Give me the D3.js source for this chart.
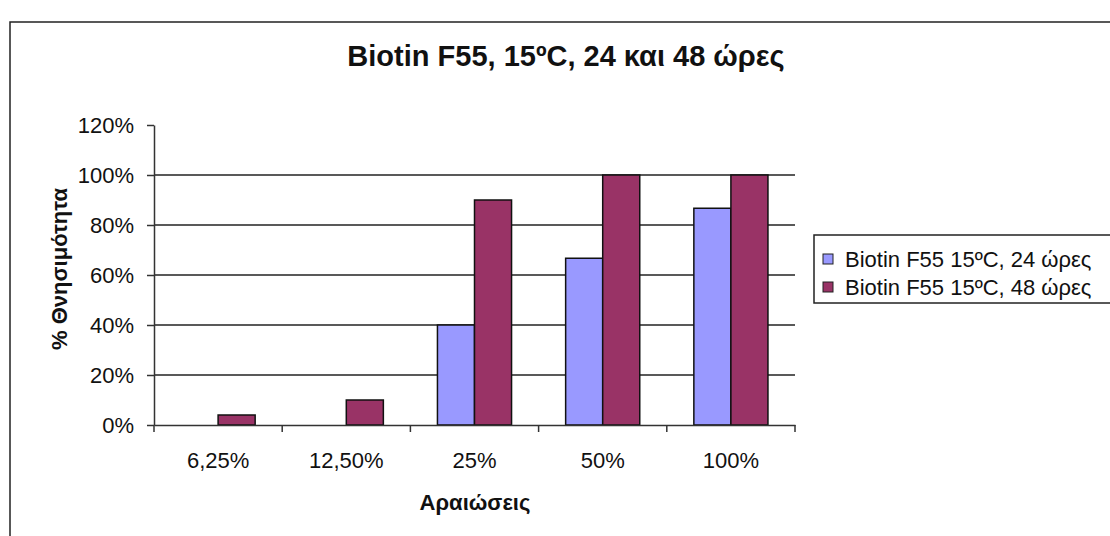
<!DOCTYPE html>
<html lang="el">
<head>
<meta charset="UTF-8">
<title>Biotin F55</title>
<style>
  body { margin: 0; background: #fff; font-family: Arial, "Liberation Sans", sans-serif; }
  svg text { fill: #111; }
  .axis path, .axis line { stroke: #333; stroke-width: 1.5; }
  .axis text { font-size: 22px; font-family: Arial, "Liberation Sans", sans-serif; fill: #111; }
</style>
</head>
<body>
<div id="chart"></div>
<script src="https://d3js.org/d3.v7.min.js"></script>
<script>
const categories = ["6,25%", "12,50%", "25%", "50%", "100%"];
const seriesNames = ["Biotin F55 15ºC, 24 ώρες", "Biotin F55 15ºC, 48 ώρες"];
const hours24 = [0, 0, 0.40, 0.667, 0.867];
const hours48 = [0.04, 0.10, 0.90, 1.00, 1.00];
const yTicks = [0, 0.2, 0.4, 0.6, 0.8, 1.0, 1.2];
const colors = ["#9999ff", "#993366"];

const W = 1110, H = 536;
const plot = { left: 154, right: 795, top: 125, bottom: 425 };

const svg = d3.select("#chart").append("svg")
    .attr("width", W)
    .attr("height", H);

// outer frame (runs off the right and bottom edges)
svg.append("rect")
    .attr("x", 10).attr("y", 22)
    .attr("width", 1130).attr("height", 540)
    .attr("fill", "#fff")
    .attr("stroke", "#222")
    .attr("stroke-width", 1.5);

svg.append("text")
    .attr("x", 566).attr("y", 66)
    .attr("text-anchor", "middle")
    .style("font-size", "29px")
    .style("font-weight", "bold")
    .text("Biotin F55, 15ºC, 24 και 48 ώρες");

const x0 = d3.scaleBand()
    .domain(categories)
    .range([plot.left, plot.right])
    .padding(0);

const x1 = d3.scaleBand()
    .domain(d3.range(seriesNames.length))
    .range([0, x0.bandwidth()])
    .paddingInner(0)
    .paddingOuter(0.73);

const y = d3.scaleLinear()
    .domain([0, 1.2])
    .range([plot.bottom, plot.top]);

// gridlines
svg.append("g")
    .selectAll("line")
    .data(yTicks.filter(d => d > 0 && d < 1.2))
    .join("line")
    .attr("x1", plot.left).attr("x2", plot.right)
    .attr("y1", d => y(d)).attr("y2", d => y(d))
    .attr("stroke", "#222")
    .attr("stroke-width", 1.5);

// bars
const rows = categories.map((c, i) => ({ cat: c, values: [hours24[i], hours48[i]] }));
svg.append("g")
    .selectAll("g")
    .data(rows)
    .join("g")
    .attr("transform", d => `translate(${x0(d.cat)},0)`)
    .selectAll("rect")
    .data(d => d.values.map((v, s) => ({ v, s })).filter(e => e.v > 0))
    .join("rect")
    .attr("x", d => x1(d.s))
    .attr("width", x1.bandwidth())
    .attr("y", d => y(d.v))
    .attr("height", d => y(0) - y(d.v))
    .attr("fill", d => colors[d.s])
    .attr("stroke", "#111")
    .attr("stroke-width", 1.5);

// y axis
svg.append("g")
    .attr("class", "axis")
    .attr("transform", `translate(${plot.left},0)`)
    .call(d3.axisLeft(y).tickValues(yTicks).tickFormat(d3.format(".0%")).tickSize(7).tickPadding(13).tickSizeOuter(0));

// x axis: labels centred, ticks at category boundaries
const xAxis = svg.append("g")
    .attr("class", "axis")
    .attr("transform", `translate(0,${plot.bottom})`)
    .call(d3.axisBottom(x0).tickSize(0).tickPadding(35).tickSizeOuter(0));
xAxis.selectAll(".tick text").attr("dy", "0.35em");
xAxis.selectAll("line.bound")
    .data(categories.map(c => x0(c)).concat([plot.right]))
    .join("line")
    .attr("class", "bound")
    .attr("x1", d => d).attr("x2", d => d)
    .attr("y1", 0).attr("y2", 7);

// axis titles
svg.append("text")
    .attr("transform", `translate(67,269) rotate(-90)`)
    .attr("text-anchor", "middle")
    .style("font-size", "22px")
    .style("font-weight", "bold")
    .text("% Θνησιμότητα");

svg.append("text")
    .attr("x", 475).attr("y", 510)
    .attr("text-anchor", "middle")
    .style("font-size", "22px")
    .style("font-weight", "bold")
    .text("Αραιώσεις");

// legend
const legend = svg.append("g").attr("transform", "translate(814,235)");
legend.append("rect")
    .attr("width", 320).attr("height", 68)
    .attr("fill", "#fff")
    .attr("stroke", "#222")
    .attr("stroke-width", 1.5);
const items = legend.selectAll("g.item")
    .data(seriesNames)
    .join("g")
    .attr("class", "item")
    .attr("transform", (d, i) => `translate(9,${24 + i * 28})`);
items.append("rect")
    .attr("x", 0).attr("y", -5)
    .attr("width", 10).attr("height", 10)
    .attr("fill", (d, i) => colors[i])
    .attr("stroke", "#222");
items.append("text")
    .attr("x", 22).attr("dy", "0.35em")
    .style("font-size", "22px")
    .text(d => d);
</script>
</body>
</html>
